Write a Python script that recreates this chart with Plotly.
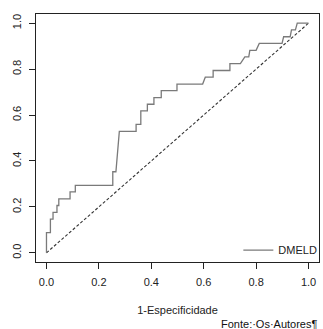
import plotly.graph_objects as go

# ROC curve for DMELD
fpr = [0, 0, 0.015, 0.015, 0.025, 0.025, 0.04, 0.04, 0.047, 0.047, 0.09, 0.09,
       0.11, 0.11, 0.253, 0.253, 0.265, 0.278, 0.342, 0.342, 0.36, 0.36, 0.385,
       0.385, 0.41, 0.41, 0.438, 0.438, 0.498, 0.498, 0.596, 0.606, 0.636, 0.636,
       0.70, 0.70, 0.74, 0.757, 0.772, 0.776, 0.80, 0.812, 0.899, 0.905, 0.93,
       0.935, 0.95, 0.957, 1.0]
tpr = [0, 0.088, 0.088, 0.147, 0.147, 0.176, 0.176, 0.206, 0.206, 0.235, 0.235,
       0.265, 0.265, 0.294, 0.294, 0.353, 0.353, 0.529, 0.529, 0.559, 0.559, 0.618,
       0.618, 0.647, 0.647, 0.676, 0.676, 0.706, 0.706, 0.735, 0.735, 0.765, 0.765,
       0.794, 0.794, 0.824, 0.824, 0.853, 0.853, 0.882, 0.882, 0.912, 0.912, 0.941,
       0.941, 0.971, 0.971, 1.0, 1.0]
ref_x = [0, 1]
ref_y = [0, 1]
tick_vals = [0.0, 0.2, 0.4, 0.6, 0.8, 1.0]
tick_text = ["0.0", "0.2", "0.4", "0.6", "0.8", "1.0"]
series_name = "DMELD"
x_title = "1-Especificidade"
source_text = "Fonte:·Os·Autores¶"

FONT = "Liberation Sans, Arial, Helvetica, sans-serif"

fig = go.Figure()
fig.add_trace(go.Scatter(x=ref_x, y=ref_y, mode="lines", showlegend=False,
                         line=dict(color="#333333", width=1.1, dash="3px,2px"),
                         hoverinfo="skip"))
fig.add_trace(go.Scatter(x=fpr, y=tpr, mode="lines", name=series_name,
                         line=dict(color="#7a7a7a", width=1.3)))

axis_common = dict(
    range=[-0.04, 1.04], showgrid=False, zeroline=False,
    showline=True, linecolor="#222", linewidth=1, mirror=True,
    ticks="outside", ticklen=6, tickcolor="#222", tickwidth=1,
    tickvals=tick_vals, ticktext=tick_text,
    tickfont=dict(family=FONT, size=11, color="#222"),
)

fig.update_layout(
    width=323, height=329,
    margin=dict(l=36, r=1, t=14, b=67),
    paper_bgcolor="white", plot_bgcolor="white",
    xaxis=dict(**axis_common, ticklabelstandoff=4,
               title=dict(text=x_title, font=dict(family=FONT, size=11, color="#222"),
                          standoff=19)),
    yaxis=dict(**axis_common, tickangle=-90, ticklabelstandoff=4),
    showlegend=True,
    legend=dict(x=0.715, xanchor="left", y=0.048, yanchor="middle",
                bgcolor="rgba(0,0,0,0)", borderwidth=0,
                font=dict(family=FONT, size=11, color="#222"),
                itemwidth=30),
    annotations=[dict(text=source_text, xref="paper", yref="paper",
                      x=1.0, y=-0.252, xanchor="right", yanchor="middle",
                      showarrow=False,
                      font=dict(family=FONT, size=11, color="#111"))],
)

fig.write_html("out.html")
